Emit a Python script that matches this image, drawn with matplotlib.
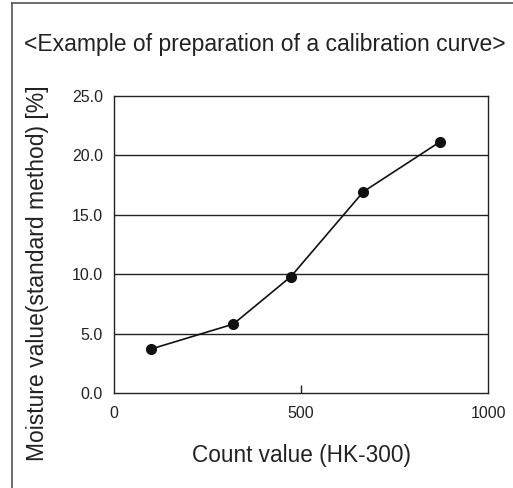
import matplotlib.pyplot as plt
from matplotlib.lines import Line2D

# calibration data: count value vs. moisture by standard method
count_values = [99, 319, 473, 667, 872]
moisture_values = [3.7, 5.8, 9.8, 16.95, 21.15]

x_ticks = [0, 500, 1000]
y_ticks = [0.0, 5.0, 10.0, 15.0, 20.0, 25.0]

plt.rcParams['font.family'] = ['Liberation Sans', 'DejaVu Sans']

fig = plt.figure(figsize=(5.13, 4.88), dpi=100)
ax = fig.add_axes([114 / 513, 1 - 393 / 488, 374 / 513, 297 / 488])

# horizontal grid lines
for y in y_ticks[1:-1]:
    ax.axhline(y, color='#222222', lw=1.0, zorder=1)

ax.plot(count_values, moisture_values, color='#111111', lw=1.2,
        marker='o', markersize=7, zorder=3)

ax.set_xlim(0, 1000)
ax.set_ylim(0, 25)
ax.set_xticks(x_ticks)
ax.set_xticklabels([str(v) for v in x_ticks])
ax.set_yticks(y_ticks)
ax.set_yticklabels(['%.1f' % v for v in y_ticks])
ax.tick_params(axis='x', direction='in', length=6, width=1.0, pad=9,
               labelsize=11.5, colors='#222222')
ax.tick_params(axis='y', length=0, pad=8, labelsize=11.5, colors='#222222')
# only the middle x tick has a visible mark
for i, t in enumerate(ax.xaxis.get_major_ticks()):
    if i != 1:
        t.tick1line.set_visible(False)

for s in ax.spines.values():
    s.set_color('#222222')
    s.set_linewidth(1.0)

ax.set_xlabel('Count value (HK-300)', fontsize=16.3, color='#222222', labelpad=17)
fig.text(38 / 513, 1 - 273 / 488, 'Moisture value(standard method) [%]',
         rotation=90, ha='center', va='center', fontsize=16.5, color='#222222')

fig.text(265 / 513, 1 - 51 / 488,
         '<Example of preparation of a calibration curve>',
         ha='center', va='baseline', fontsize=16.5, color='#222222')

# outer frame (top and left edges)
fig.add_artist(Line2D([12 / 513, 12 / 513], [0, 1 - 3 / 488],
                      transform=fig.transFigure, color='#555555', lw=1.2))
fig.add_artist(Line2D([12 / 513, 1], [1 - 3 / 488, 1 - 3 / 488],
                      transform=fig.transFigure, color='#555555', lw=1.2))

fig.savefig('out.png', dpi=100)
